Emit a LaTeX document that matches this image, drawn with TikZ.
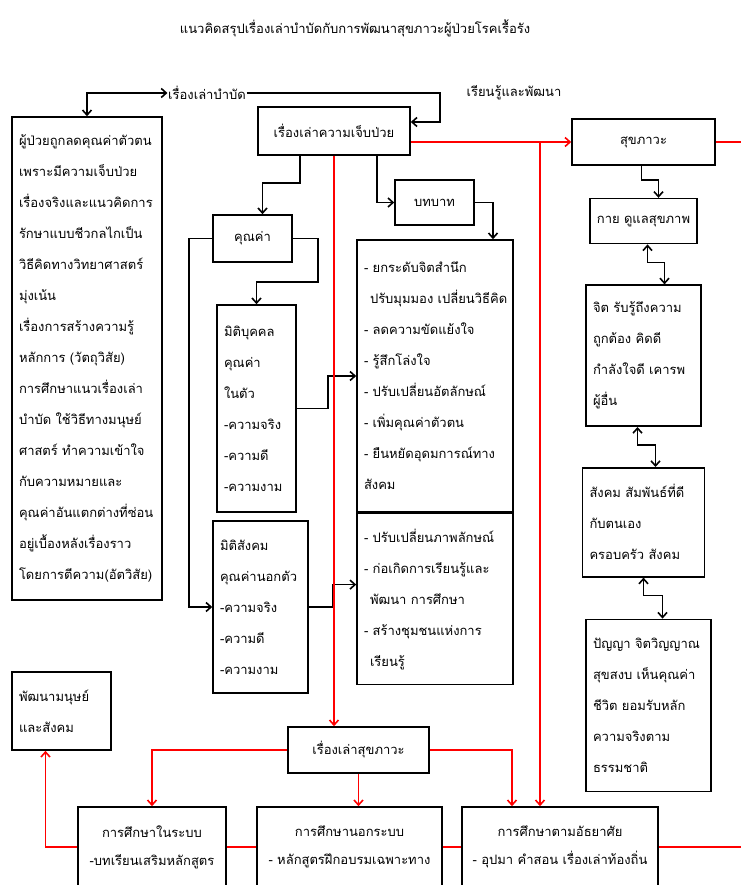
\documentclass[tikz,border=0pt]{standalone}
\usepackage{fontspec}
\newfontfamily\thaifont[Script=Thai]{Loma}
\usetikzlibrary{positioning,arrows.meta}

\begin{document}
\begin{tikzpicture}[x=1pt,y=-1pt,>={Straight Barb[length=5pt,width=9pt]},line width=1.6pt,
    every node/.style={font=\thaifont\fontsize{13}{31}\selectfont, inner sep=0pt},
    box/.style={draw, rectangle, line width=1.6pt, inner xsep=7pt},
    redline/.style={draw=red, line width=1.6pt}]
    \useasboundingbox (0,0) rectangle (740,885);

    \node (title) at (355,28) {แนวคิดสรุปเรื่องเล่าบำบัดกับการพัฒนาสุขภาวะผู้ป่วยโรคเรื้อรัง};
    \node (narr) at (207,93) {เรื่องเล่าบำบัด};
    \node (learn) at (514,93) {เรียนรู้และพัฒนา};

    \node (illness) [box, minimum width=152pt, minimum height=48pt] at (334,131) {เรื่องเล่าความเจ็บป่วย};
    \node (leftbox) [box, text width=136pt, minimum height=483pt, align=left] at (87,358.5) {ผู้ป่วยถูกลดคุณค่าตัวตน\\ เพราะมีความเจ็บป่วย\\ เรื่องจริงและแนวคิดการ\\ รักษาแบบชีวกลไกเป็น\\ วิธีคิดทางวิทยาศาสตร์\\ มุ่งเน้น\\ เรื่องการสร้างความรู้\\ หลักการ (วัตถุวิสัย)\\ การศึกษาแนวเรื่องเล่า\\ บำบัด ใช้วิธีทางมนุษย์\\ ศาสตร์ ทำความเข้าใจ\\ กับความหมายและ\\ คุณค่าอันแตกต่างที่ซ่อน\\ อยู่เบื้องหลังเรื่องราว\\ โดยการตีความ(อัตวิสัย)};

    \node (value) [box, minimum width=79pt, minimum height=47pt] at (252.5,238.5) {คุณค่า};
    \node (role) [box, minimum width=79pt, minimum height=45pt] at (434.5,202.5) {บทบาท};
    \node (person) [box, text width=65pt, minimum height=207pt, align=left] at (256.5,408.5) {มิติบุคคล\\ คุณค่า\\ ในตัว\\ -ความจริง\\ -ความดี\\ -ความงาม};
    \node (social) [box, text width=81pt, minimum height=172pt, align=left] at (260.5,607) {มิติสังคม\\ คุณค่านอกตัว\\ -ความจริง\\ -ความดี\\ -ความงาม};
    \node (effects) [box, text width=142pt, minimum height=272pt, align=left] at (435,376) {- ยกระดับจิตสำนึก\\ \hspace*{6pt}\mbox{ปรับมุมมอง เปลี่ยนวิธีคิด}\\ - ลดความขัดแย้งใจ\\ - รู้สึกโล่งใจ\\ - ปรับเปลี่ยนอัตลักษณ์\\ - เพิ่มคุณค่าตัวตน\\ - ยืนหยัดอุดมการณ์ทาง\\ สังคม};
    \node (outcome) [box, text width=142pt, minimum height=171pt, align=left, below=0pt of effects] {- ปรับเปลี่ยนภาพลักษณ์\\ - ก่อเกิดการเรียนรู้และ\\ \hspace*{6pt}พัฒนา การศึกษา\\ - สร้างชุมชนแห่งการ\\ \hspace*{6pt}เรียนรู้};

    \node (wellbeing) [box, minimum width=143pt, minimum height=46pt] at (643.5,142) {สุขภาวะ};
    \node (body) [box, minimum width=102pt, minimum height=45pt, below=32pt of wellbeing] {กาย ดูแลสุขภาพ};
    \node (mind) [box, text width=101pt, minimum height=141pt, align=left, below=40pt of body] {จิต รับรู้ถึงความ\\ ถูกต้อง คิดดี\\ กำลังใจดี เคารพ\\ ผู้อื่น};
    \node (society) [box, text width=108pt, minimum height=109pt, align=left, below=40pt of mind] {สังคม สัมพันธ์ที่ดี\\ กับตนเอง\\ ครอบครัว สังคม};
    \node (wisdom) [box, text width=111pt, minimum height=172pt, align=left, below=41pt of society, xshift=5pt] {ปัญญา จิตวิญญาณ\\ สุขสงบ เห็นคุณค่า\\ ชีวิต ยอมรับหลัก\\ ความจริงตาม\\ ธรรมชาติ};

    \node (develop) [box, text width=85pt, minimum height=78pt, align=left] at (61.5,711) {พัฒนามนุษย์\\ และสังคม};
    \node (story) [box, minimum width=141pt, minimum height=46pt] at (358.5,750) {เรื่องเล่าสุขภาวะ};
    \node (formal) [box, minimum width=148pt, minimum height=80pt, align=center, font=\thaifont\fontsize{13}{28}\selectfont] at (152,847) {การศึกษาในระบบ\\ -บทเรียนเสริมหลักสูตร};
    \node (nonformal) [box, minimum width=185pt, minimum height=80pt, align=center, font=\thaifont\fontsize{13}{28}\selectfont] at (349.5,847) {การศึกษานอกระบบ\\ - หลักสูตรฝึกอบรมเฉพาะทาง};
    \node (informal) [box, minimum width=196pt, minimum height=80pt, align=center, font=\thaifont\fontsize{13}{28}\selectfont] at (560,847) {การศึกษาตามอัธยาศัย\\ - อุปมา คำสอน เรื่องเล่าท้องถิ่น};

    \coordinate (loopturn) at (440,0);
    \coordinate (redtap) at (540,142);
    \coordinate (edgetop) at (745,142);
    \coordinate (edgebot) at (745,847);

    % black connectors
    \draw[<->] (leftbox.north) |- (narr.west);
    \draw[->] (narr.east) -- (narr.east -| loopturn) |- ([yshift=9pt]illness.east);
    \draw[->] ([xshift=-34pt]illness.south) -- ++(0,27) -| ([xshift=10pt]value.north);
    \draw[->] ([xshift=43pt]illness.south) |- (role.west);
    \draw[->] (role.east) -| ([xshift=58pt]effects.north);
    \draw[->] (value.east) -| ++(25,43.5) -| (person.north);
    \draw[->] (value.west) -- ++(-23,0) |- (social.west);
    \draw[->] (person.east) -- ++(31,0) |- (effects.west);
    \draw[->] (social.east) -- ++(24,0) |- ([yshift=14.5pt]outcome.west);

    \draw[->] ([xshift=-2pt]wellbeing.south) -- ++(0,14) -| ([xshift=15pt]body.north);
    \draw[<->] ([xshift=4pt]body.south) -- ++(0,18) -| ([xshift=21pt]mind.north);
    \draw[<->] ([xshift=-6pt]mind.south) -- ++(0,18) -| ([xshift=12pt]society.north);
    \draw[<->] (society.south) -- ++(0,18) -| ([xshift=14pt]wisdom.north);

    % red connectors
    \draw[redline,->] (illness.east |- redtap) -- (wellbeing.west);
    \draw[redline] (wellbeing.east) -- (edgetop);
    \draw[redline,->] (redtap) -- (redtap |- informal.north);
    \draw[redline,->] (illness.south) -- (illness.south |- story.north);
    \draw[redline,->] (story.west) -| (formal.north);
    \draw[redline,->] (story.south) -- (story.south |- nonformal.north);
    \draw[redline,->] (story.east) -| ([xshift=-48pt]informal.north);
    \draw[redline,->] (formal.west) -| ([xshift=-16pt]develop.south);
    \draw[redline] (formal.east) -- (nonformal.west);
    \draw[redline] (nonformal.east) -- (informal.west);
    \draw[redline] (informal.east) -- (edgebot);
\end{tikzpicture}
\end{document}
